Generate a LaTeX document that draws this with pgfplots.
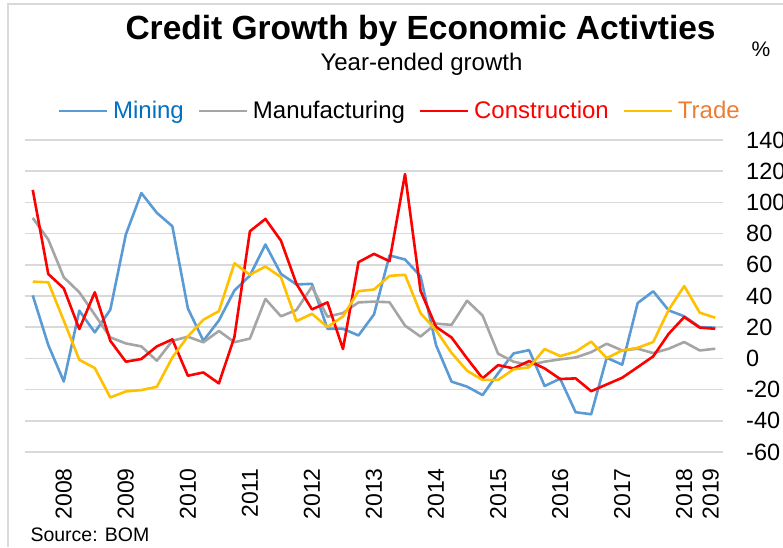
\documentclass[border=0pt]{standalone}
\usepackage{fontspec}
\setmainfont{Liberation Sans}
\usepackage{pgfplots}
\usepackage{pgfplotstable}
\pgfplotsset{compat=1.18}
\definecolor{MiningBlue}{HTML}{5B9BD5}
\definecolor{MiningText}{HTML}{0070C0}
\definecolor{ManufGray}{HTML}{A5A5A5}
\definecolor{ConstrRed}{HTML}{FF0000}
\definecolor{TradeGold}{HTML}{FFC000}
\definecolor{TradeText}{HTML}{ED7D31}
\definecolor{GridGray}{HTML}{D9D9D9}

% year-ended growth, quarterly, per cent
\pgfplotstableread{
q  mining manuf constr trade
0  40.4  90.0  108.0  49.2
1  8.6   76.2  54.1   48.8
2  -14.8 52.0  44.9   24.2
3  30.6  42.4  18.8   -0.9
4  16.7  28.0  42.4   -6.2
5  31.2  13.5  11.3   -25.0
6  79.4  9.6   -2.1   -21.2
7  106.0 7.7   -0.4   -20.3
8  93.3  -1.5  7.7    -18.2
9  84.7  11.3  12.2   0.6
10 32.1  13.9  -11.1  14.1
11 11.3  10.3  -9.0   24.8
12 24.3  17.6  -16.0  30.3
13 43.5  10.4  13.7   61.0
14 53.1  12.7  81.5   53.6
15 73.0  38.1  89.4   58.9
16 54.2  27.0  75.5   52.1
17 47.4  31.0  47.8   23.9
18 47.8  46.0  31.4   28.6
19 19.0  26.7  35.9   20.1
20 19.0  29.1  6.0    26.9
21 14.7  35.9  61.7   43.1
22 28.2  36.4  67.0   44.2
23 66.0  36.0  62.3   52.9
24 63.4  21.0  118.2  53.6
25 52.7  14.0  43.3   29.0
26 8.5   22.3  20.2   18.0
27 -14.9 21.5  13.4   3.5
28 -18.1 37.0  0.0    -7.9
29 -23.5 27.5  -12.8  -13.8
30 -9.5  3.0   -4.3   -13.8
31 3.2   -2.1  -6.4   -7.0
32 5.3   -4.3  -1.7   -5.7
33 -17.7 -2.1  -6.4   6.0
34 -13.0 -0.6  -13.2  1.5
35 -34.5 0.6   -12.8  4.3
36 -35.8 4.0   -21.0  10.8
37 0.4   9.4   -16.7  0.2
38 -4.0  5.1   -12.4  5.1
39 35.5  6.2   -5.6   6.8
40 43.0  3.4   1.3    10.5
41 30.8  6.2   15.8   31.2
42 27.0  10.5  26.5   46.4
43 20.1  5.1   19.7   29.3
44 19.7  6.2   19.0   26.1
}\credit

\begin{document}
\begin{tikzpicture}
\path[use as bounding box] (-25pt,-95pt) rectangle (758pt,452pt);
\draw[GridGray, line width=1.5pt] (-17pt,-95pt) -- (-17pt,448pt) -- (758pt,448pt);
\begin{axis}[
  scale only axis, width=698pt, height=312pt,
  xmin=-0.5, xmax=44.5, ymin=-60, ymax=140,
  axis line style={draw=none},
  major tick length=0pt,
  ymajorgrids, grid style={GridGray, line width=1.5pt},
  ytick={-60,-40,...,140},
  yticklabels={-60,-40,-20,0,20,40,60,80,100,120,140},
  yticklabel pos=right,
  yticklabel shift=23pt,
  yticklabel style={anchor=west, inner sep=0pt, font=\fontsize{23.5}{28}\selectfont},
  xtick={2,6,...,42,43.7},
  xticklabels={2008,2009,2010,2011,2012,2013,2014,2015,2016,2017,2018,2019},
  xticklabel shift=16pt,
  xticklabel style={rotate=90, anchor=east, inner sep=0pt, font=\fontsize{23}{27}\selectfont},
  legend columns=4,
  legend image code/.code={\draw[#1] (0pt,0pt) -- (48pt,0pt);},
  legend style={at={(axis description cs:0.0473,1.063)}, anchor=south west,
    draw=none, fill=none, inner sep=0pt, outer sep=0pt, nodes={inner sep=0pt},
    font=\fontsize{24}{29}\selectfont,
    /tikz/every odd column/.append style={column sep=4.5pt},
    /tikz/every even column/.append style={column sep=14pt}},
  every axis plot/.append style={line width=2.6pt, line join=round},
]
\addplot[MiningBlue] table[x=q, y=mining] {\credit};
\addlegendentry{\textcolor{MiningText}{Mining}}
\addplot[ManufGray] table[x=q, y=manuf] {\credit};
\addlegendentry{Manufacturing}
\addplot[ConstrRed] table[x=q, y=constr] {\credit};
\addlegendentry{\textcolor{ConstrRed}{Construction}}
\addplot[TradeGold] table[x=q, y=trade] {\credit};
\addlegendentry{\textcolor{TradeText}{Trade}}
\end{axis}
\node[anchor=base west, font=\fontsize{33.5}{40}\selectfont\bfseries] at (97pt,412pt) {Credit Growth by Economic Activties};
\node[anchor=base west, font=\fontsize{24}{28}\selectfont] at (292pt,381.3pt) {Year-ended growth};
\node[anchor=base, font=\fontsize{21}{25}\selectfont] at (736pt,395pt) {\%};
\node[anchor=base west, font=\fontsize{19.5}{23}\selectfont] at (2pt,-89.7pt) {Source: BOM};
\end{tikzpicture}
\end{document}
